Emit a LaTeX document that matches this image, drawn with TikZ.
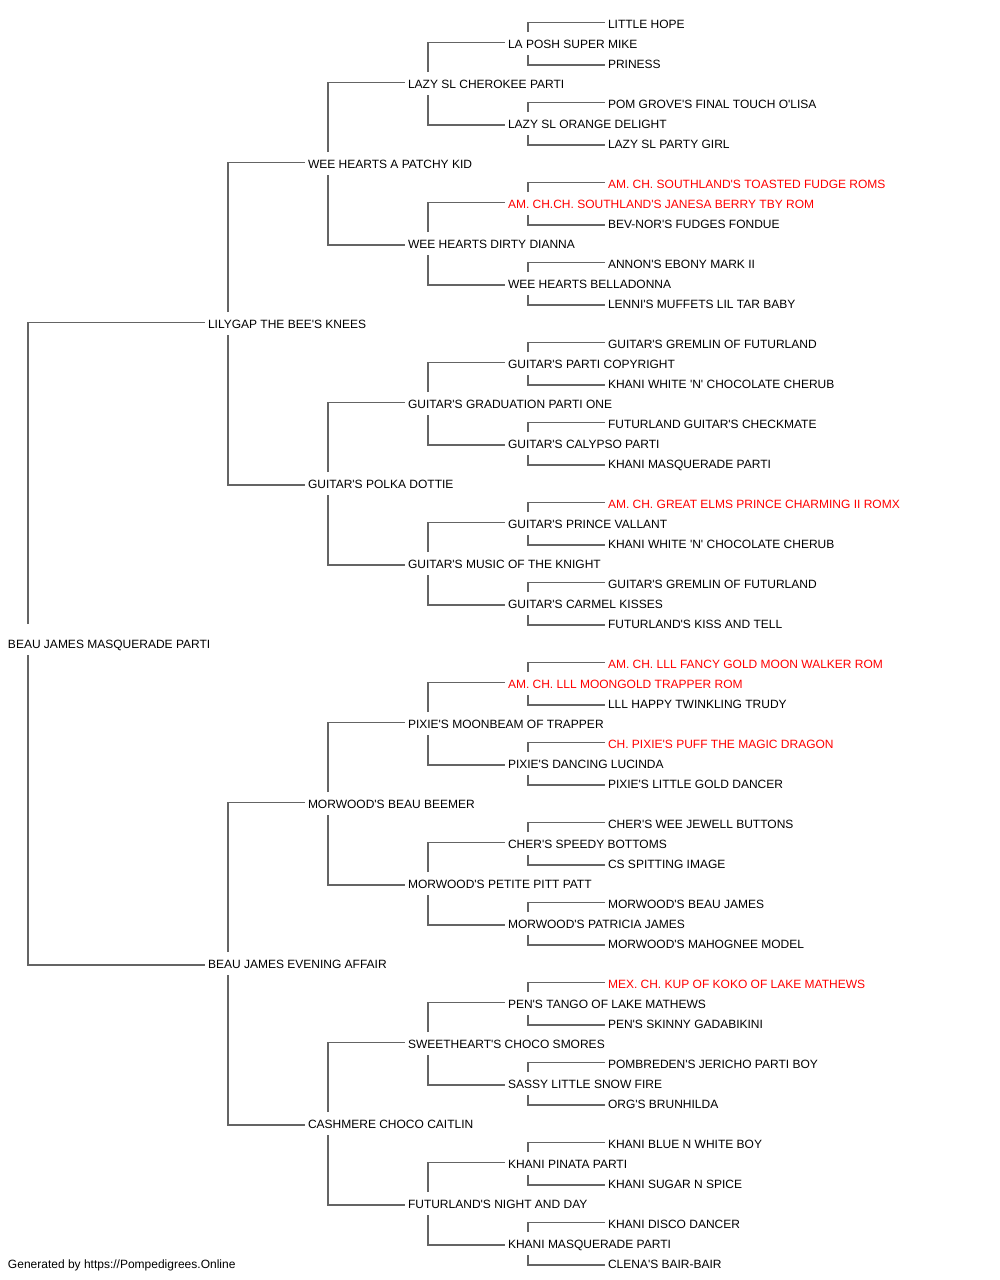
\documentclass[tikz,border=0pt]{standalone}
\usepackage{fontspec}
\setmainfont{Liberation Sans}[Ligatures=TeXOff]
\definecolor{linkgray}{RGB}{100,100,100}
\definecolor{champred}{RGB}{255,0,0}
\begin{document}
\begin{tikzpicture}[x=1pt,y=-1pt,
  pname/.style={anchor=base west,inner sep=0pt,outer sep=0pt,font=\fontsize{12}{14}\selectfont,text=black},
  champ/.style={pname,text=champred},
  link/.style={draw=linkgray,line width=1.5pt}]
\useasboundingbox (0,0) rectangle (1000,1280);
% generation x positions: 8,208,308,408,508,608 ; baseline = 28 + 20*row
\node[pname] (r0) at (608,28) {LITTLE HOPE};
\node[pname] (r1) at (508,48) {LA POSH SUPER MIKE};
\node[pname] (r2) at (608,68) {PRINESS};
\node[pname] (r3) at (408,88) {LAZY SL CHEROKEE PARTI};
\node[pname] (r4) at (608,108) {POM GROVE'S FINAL TOUCH O'LISA};
\node[pname] (r5) at (508,128) {LAZY SL ORANGE DELIGHT};
\node[pname] (r6) at (608,148) {LAZY SL PARTY GIRL};
\node[pname] (r7) at (308,168) {WEE HEARTS A PATCHY KID};
\node[champ] (r8) at (608,188) {AM. CH. SOUTHLAND'S TOASTED FUDGE ROMS};
\node[champ] (r9) at (508,208) {AM. CH.CH. SOUTHLAND'S JANESA BERRY TBY ROM};
\node[pname] (r10) at (608,228) {BEV-NOR'S FUDGES FONDUE};
\node[pname] (r11) at (408,248) {WEE HEARTS DIRTY DIANNA};
\node[pname] (r12) at (608,268) {ANNON'S EBONY MARK II};
\node[pname] (r13) at (508,288) {WEE HEARTS BELLADONNA};
\node[pname] (r14) at (608,308) {LENNI'S MUFFETS LIL TAR BABY};
\node[pname] (r15) at (208,328) {LILYGAP THE BEE'S KNEES};
\node[pname] (r16) at (608,348) {GUITAR'S GREMLIN OF FUTURLAND};
\node[pname] (r17) at (508,368) {GUITAR'S PARTI COPYRIGHT};
\node[pname] (r18) at (608,388) {KHANI WHITE 'N' CHOCOLATE CHERUB};
\node[pname] (r19) at (408,408) {GUITAR'S GRADUATION PARTI ONE};
\node[pname] (r20) at (608,428) {FUTURLAND GUITAR'S CHECKMATE};
\node[pname] (r21) at (508,448) {GUITAR'S CALYPSO PARTI};
\node[pname] (r22) at (608,468) {KHANI MASQUERADE PARTI};
\node[pname] (r23) at (308,488) {GUITAR'S POLKA DOTTIE};
\node[champ] (r24) at (608,508) {AM. CH. GREAT ELMS PRINCE CHARMING II ROMX};
\node[pname] (r25) at (508,528) {GUITAR'S PRINCE VALLANT};
\node[pname] (r26) at (608,548) {KHANI WHITE 'N' CHOCOLATE CHERUB};
\node[pname] (r27) at (408,568) {GUITAR'S MUSIC OF THE KNIGHT};
\node[pname] (r28) at (608,588) {GUITAR'S GREMLIN OF FUTURLAND};
\node[pname] (r29) at (508,608) {GUITAR'S CARMEL KISSES};
\node[pname] (r30) at (608,628) {FUTURLAND'S KISS AND TELL};
\node[pname] (r31) at (8,648) {BEAU JAMES MASQUERADE PARTI};
\node[champ] (r32) at (608,668) {AM. CH. LLL FANCY GOLD MOON WALKER ROM};
\node[champ] (r33) at (508,688) {AM. CH. LLL MOONGOLD TRAPPER ROM};
\node[pname] (r34) at (608,708) {LLL HAPPY TWINKLING TRUDY};
\node[pname] (r35) at (408,728) {PIXIE'S MOONBEAM OF TRAPPER};
\node[champ] (r36) at (608,748) {CH. PIXIE'S PUFF THE MAGIC DRAGON};
\node[pname] (r37) at (508,768) {PIXIE'S DANCING LUCINDA};
\node[pname] (r38) at (608,788) {PIXIE'S LITTLE GOLD DANCER};
\node[pname] (r39) at (308,808) {MORWOOD'S BEAU BEEMER};
\node[pname] (r40) at (608,828) {CHER'S WEE JEWELL BUTTONS};
\node[pname] (r41) at (508,848) {CHER'S SPEEDY BOTTOMS};
\node[pname] (r42) at (608,868) {CS SPITTING IMAGE};
\node[pname] (r43) at (408,888) {MORWOOD'S PETITE PITT PATT};
\node[pname] (r44) at (608,908) {MORWOOD'S BEAU JAMES};
\node[pname] (r45) at (508,928) {MORWOOD'S PATRICIA JAMES};
\node[pname] (r46) at (608,948) {MORWOOD'S MAHOGNEE MODEL};
\node[pname] (r47) at (208,968) {BEAU JAMES EVENING AFFAIR};
\node[champ] (r48) at (608,988) {MEX. CH. KUP OF KOKO OF LAKE MATHEWS};
\node[pname] (r49) at (508,1008) {PEN'S TANGO OF LAKE MATHEWS};
\node[pname] (r50) at (608,1028) {PEN'S SKINNY GADABIKINI};
\node[pname] (r51) at (408,1048) {SWEETHEART'S CHOCO SMORES};
\node[pname] (r52) at (608,1068) {POMBREDEN'S JERICHO PARTI BOY};
\node[pname] (r53) at (508,1088) {SASSY LITTLE SNOW FIRE};
\node[pname] (r54) at (608,1108) {ORG'S BRUNHILDA};
\node[pname] (r55) at (308,1128) {CASHMERE CHOCO CAITLIN};
\node[pname] (r56) at (608,1148) {KHANI BLUE N WHITE BOY};
\node[pname] (r57) at (508,1168) {KHANI PINATA PARTI};
\node[pname] (r58) at (608,1188) {KHANI SUGAR N SPICE};
\node[pname] (r59) at (408,1208) {FUTURLAND'S NIGHT AND DAY};
\node[pname] (r60) at (608,1228) {KHANI DISCO DANCER};
\node[pname] (r61) at (508,1248) {KHANI MASQUERADE PARTI};
\node[pname] (r62) at (608,1268) {CLENA'S BAIR-BAIR};
\node[pname] (footer) at (8,1268) {Generated by https://Pompedigrees.Online};
% connectors: parent row / offset to children / top gap
\foreach \p/\d/\g in {31/16/24,
  15/8/16, 47/8/16,
  7/4/16, 23/4/16, 39/4/16, 55/4/16,
  3/2/16, 11/2/16, 19/2/16, 27/2/16, 35/2/16, 43/2/16, 51/2/16, 59/2/16,
  1/1/16, 5/1/16, 9/1/16, 13/1/16, 17/1/16, 21/1/16, 25/1/16, 29/1/16,
  33/1/16, 37/1/16, 41/1/16, 45/1/16, 49/1/16, 53/1/16, 57/1/16, 61/1/16}{
  \pgfmathtruncatemacro{\ta}{\p-\d}
  \pgfmathtruncatemacro{\tb}{\p+\d}
  \draw[link] ([xshift=20pt,yshift=\g pt]r\p.base west) |- ([xshift=-3pt,yshift=5.5pt]r\ta.base west);
  \draw[link] ([xshift=20pt,yshift=-7pt]r\p.base west) |- ([xshift=-3pt,yshift=3pt]r\tb.base west);
}
\end{tikzpicture}
\end{document}
